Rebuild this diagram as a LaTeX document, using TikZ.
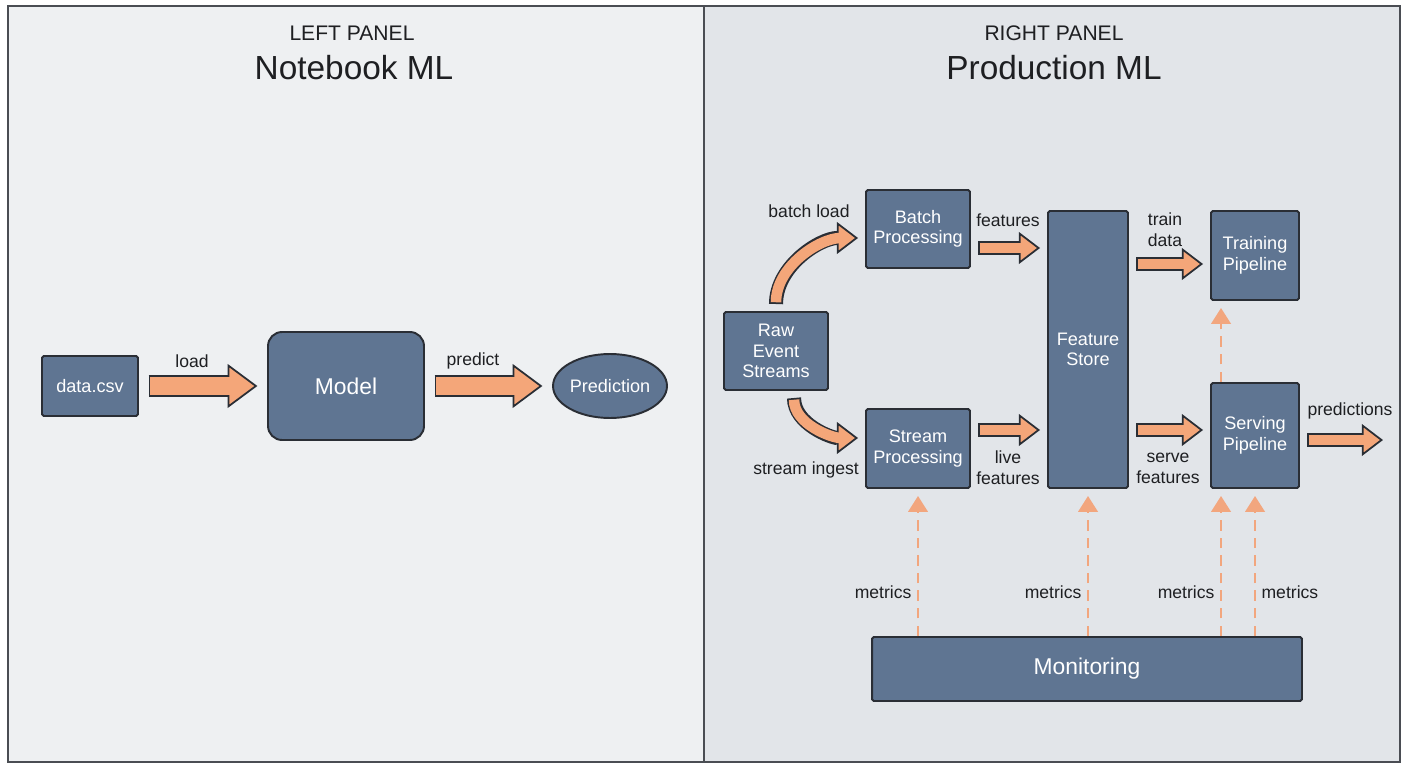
\documentclass[tikz,border=0pt]{standalone}
\usepackage{fontspec}
\setmainfont{Liberation Sans}
\usepackage{xcolor}
\usetikzlibrary{positioning, arrows.meta, shapes.geometric}
\definecolor{panelleft}{HTML}{EEF0F2}
\definecolor{panelright}{HTML}{E2E5E9}
\definecolor{boxblue}{HTML}{5F7592}
\definecolor{linedark}{HTML}{2A2E35}
\definecolor{arroworange}{HTML}{F4A679}
\definecolor{dashorange}{HTML}{F2A67E}
\definecolor{inkdark}{HTML}{1E1F22}

\tikzset{
  panel/.style={draw=linedark!85, line width=1pt},
  title/.style={text=inkdark, font=\fontsize{12}{14}\selectfont},
  subtitle/.style={text=inkdark, font=\fontsize{19}{22}\selectfont},
  box/.style={draw=linedark, fill=boxblue, line width=1.1pt, text=white, align=center,
              inner sep=2pt, rounded corners=1pt, font=\fontsize{10.3}{11.6}\selectfont},
  bigbox/.style={box, font=\fontsize{13}{15}\selectfont},
  lbl/.style={text=inkdark, align=center, inner sep=1pt, font=\fontsize{10}{12}\selectfont},
  bigout/.style={draw=linedark, line width=12pt, shorten <=5.5pt, shorten >=5.5pt,
                 -{Triangle[length=17pt, width=25pt, fill=arroworange, line width=1pt]}},
  bigin/.style={draw=arroworange, line width=10pt, shorten <=6.5pt, shorten >=20.5pt},
  smallout/.style={draw=linedark, line width=8pt, shorten <=4pt, shorten >=4pt,
                   -{Triangle[length=12pt, width=18pt, fill=arroworange, line width=1pt]}},
  smallin/.style={draw=arroworange, line width=6pt, shorten <=5pt, shorten >=14pt},
  metric/.style={draw=dashorange, line width=1.5pt, dash pattern=on 6pt off 4pt,
                 shorten >=4pt, -{Triangle[length=9pt, width=11pt]}}
}
% outlined fat arrow: black pass, then orange pass on top
\newcommand{\fatarrow}[2]{%
  \draw[#1out] #2;
  \draw[#1in] #2;}

\begin{document}
\begin{tikzpicture}[x=0.02cm, y=0.02cm]
  \useasboundingbox (0,0) rectangle (1408,768);
  \fill[white] (0,0) rectangle (1408,768);

  % panels
  \draw[panel, fill=panelleft] (8,6) rectangle (704,762);
  \draw[panel, fill=panelright] (704,6) rectangle (1400,762);
  \node[title] (lpanel) at (352,735) {LEFT PANEL};
  \node[subtitle] (lhead) at (354,700) {Notebook ML};
  \node[title] (rpanel) at (1054,735) {RIGHT PANEL};
  \node[subtitle] (rhead) at (1054,700) {Production ML};

  % notebook side
  \node[box, minimum width=1.92cm, minimum height=1.2cm] (data) at (90,382) {data.csv};
  \node[bigbox, rounded corners=8pt, minimum width=3.12cm, minimum height=2.16cm] (model) at (346,382) {Model};
  \node[box, ellipse, inner sep=0pt, minimum width=2.28cm, minimum height=1.28cm] (pred) at (610,382) {Prediction};

  \fatarrow{big}{(data) -- (model)}
  \fatarrow{big}{(model) -- (pred)}
  \node[lbl] (lload) at (192,407) {load};
  \node[lbl] (lpredict) at (473,407) {predict};

  % production side
  \node[box, minimum width=2.08cm, minimum height=1.56cm] (raw) at (776,417) {Raw\\Event\\Streams};
  \node[box, minimum width=2.08cm, minimum height=1.56cm] (batch) at (918,539) {Batch\\Processing};
  \node[box, minimum width=2.08cm, minimum height=1.58cm] (stream) at (918,319.5) {Stream\\Processing};
  \node[box, minimum width=1.6cm, minimum height=5.54cm] (store) at (1088,418.5) {Feature\\Store};
  \node[box, minimum width=1.76cm, minimum height=1.78cm] (train) at (1255,512.5) {Training\\Pipeline};
  \node[box, minimum width=1.76cm, minimum height=2.1cm] (serve) at (1255,332.5) {Serving\\Pipeline};
  \node[bigbox, minimum width=8.6cm, minimum height=1.28cm] (monitor) at (1087,99) {Monitoring};
  \coordinate (predout) at (1390,328);

  \fatarrow{small}{(raw.north) to[out=90, in=180] (batch.west |- 0,530)}
  \fatarrow{small}{(raw.south -| 794,0) to[out=-90, in=180] (stream.west |- 0,330)}
  \fatarrow{small}{(batch.east |- 0,520) -- (store.west |- 0,520)}
  \fatarrow{small}{(stream.east |- 0,338) -- (store.west |- 0,338)}
  \fatarrow{small}{(store.east |- 0,504) -- (train.west |- 0,504)}
  \fatarrow{small}{(store.east |- 0,338) -- (serve.west |- 0,338)}
  \fatarrow{small}{(serve.east |- 0,328) -- (predout)}

  \node[lbl] (lbatch) at (809,557) {batch load};
  \node[lbl] (lingest) at (806,298) {stream ingest};
  \node[lbl] (lfeat) at (1008,548) {features};
  \node[lbl] (llive) at (1008,300) {live\\features};
  \node[lbl] (ltrain) at (1165,538) {train\\data};
  \node[lbl] (lserve) at (1168,300) {serve\\features};
  \node[lbl] (lpreds) at (1350,357) {predictions};

  % monitoring
  \draw[metric] (monitor.north -| stream.south) -- (stream.south)
    node[lbl, left=2pt, pos=.3] {metrics};
  \draw[metric] (monitor.north -| store.south) -- (store.south)
    node[lbl, left=2pt, pos=.3] {metrics};
  \draw[metric] (monitor.north -| 1221,0) -- (serve.south -| 1221,0)
    node[lbl, left=2pt, pos=.3] {metrics};
  \draw[metric] (monitor.north -| serve.south) -- (serve.south)
    node[lbl, right=2pt, pos=.3] {metrics};
  \draw[metric] (serve.north -| 1221,0) -- (train.south -| 1221,0);
\end{tikzpicture}
\end{document}
